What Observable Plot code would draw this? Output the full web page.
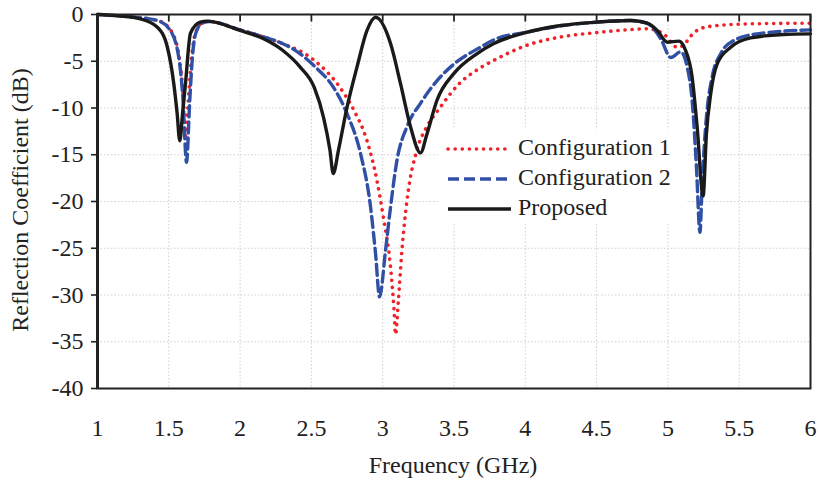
<!DOCTYPE html>
<html>
<head>
<meta charset="utf-8">
<script src="https://cdn.jsdelivr.net/npm/d3@7"></script>
<script src="https://cdn.jsdelivr.net/npm/@observablehq/plot@0.6"></script>
<style>
  html, body { margin: 0; padding: 0; background: white; }
</style>
</head>
<body>
<div id="chart"></div>
<script>
const xTicks = [1, 1.5, 2, 2.5, 3, 3.5, 4, 4.5, 5, 5.5, 6];
const yTicks = [0, -5, -10, -15, -20, -25, -30, -35, -40];
const seriesNames = ["Configuration 1", "Configuration 2", "Proposed"];

const freqConfig1 = [1.0, 1.2, 1.42, 1.51, 1.57, 1.60, 1.618, 1.64, 1.66, 1.687, 1.734, 1.78, 2.0, 2.165, 2.28, 2.52, 2.70, 2.80, 2.89, 2.96, 3.005, 3.055, 3.08, 3.09, 3.11, 3.135, 3.17, 3.24, 3.31, 3.405, 3.53, 3.685, 3.78, 4.01, 4.25, 4.48, 4.715, 4.855, 4.97, 5.065, 5.11, 5.155, 5.225, 5.345, 5.58, 6.0];
const s11Config1 = [0, -0.2, -0.64, -1.6, -4.3, -8.5, -13.0, -8.5, -4.5, -2.0, -0.9, -0.75, -1.65, -2.4, -3.0, -4.9, -7.8, -10.3, -13.5, -17.8, -21.7, -27.0, -31.7, -34.2, -30.6, -25.2, -19.9, -14.5, -12.0, -9.9, -7.5, -5.7, -4.9, -3.3, -2.4, -1.96, -1.64, -1.53, -2.07, -3.5, -3.3, -2.4, -1.53, -1.18, -1.0, -0.93];

const freqConfig2 = [1.0, 1.2, 1.42, 1.51, 1.57, 1.60, 1.624, 1.647, 1.664, 1.687, 1.734, 1.78, 2.0, 2.165, 2.28, 2.35, 2.52, 2.655, 2.75, 2.845, 2.915, 2.95, 2.978, 3.02, 3.055, 3.10, 3.17, 3.265, 3.38, 3.50, 3.685, 3.78, 4.01, 4.25, 4.50, 4.74, 4.855, 4.95, 5.02, 5.09, 5.135, 5.17, 5.20, 5.225, 5.24, 5.27, 5.31, 5.37, 5.46, 5.625, 6.0];
const s11Config2 = [0, -0.2, -0.64, -1.7, -4.6, -9.2, -15.8, -9.2, -4.9, -2.1, -0.93, -0.75, -1.65, -2.4, -3.0, -3.5, -5.5, -7.8, -10.6, -14.9, -20.6, -25.6, -30.2, -25.2, -20.6, -15.6, -12.0, -9.5, -7.1, -5.3, -3.5, -2.7, -1.9, -1.2, -0.82, -0.64, -0.95, -2.6, -4.6, -4.0, -5.6, -9.2, -16.3, -23.3, -18.1, -11.0, -6.7, -4.2, -2.8, -2.07, -1.64];

const freqProposed = [1.0, 1.15, 1.3, 1.42, 1.49, 1.535, 1.558, 1.577, 1.597, 1.617, 1.652, 1.72, 1.77, 2.0, 2.165, 2.30, 2.42, 2.52, 2.585, 2.63, 2.653, 2.69, 2.75, 2.82, 2.89, 2.95, 3.055, 3.125, 3.195, 3.265, 3.31, 3.38, 3.50, 3.66, 3.78, 4.01, 4.25, 4.50, 4.74, 4.855, 4.925, 4.995, 5.077, 5.12, 5.17, 5.205, 5.247, 5.27, 5.30, 5.345, 5.44, 5.58, 5.81, 6.0];
const s11Proposed = [0, -0.15, -0.46, -1.36, -3.5, -7.4, -10.5, -13.5, -10.5, -7.4, -2.0, -0.82, -0.71, -1.71, -2.6, -3.85, -5.6, -7.8, -11.0, -14.5, -17.0, -14.5, -9.9, -5.6, -1.7, -0.3, -3.1, -7.4, -12.0, -14.8, -12.8, -9.2, -6.3, -4.2, -3.1, -1.9, -1.18, -0.82, -0.64, -0.93, -1.7, -2.96, -2.85, -3.7, -6.7, -12.0, -19.4, -12.8, -8.5, -5.3, -3.5, -2.5, -2.14, -2.07];

const toRows = (fs, vs) => fs.map((f, i) => ({f, db: vs[i]}));
const rows1 = toRows(freqConfig1, s11Config1);
const rows2 = toRows(freqConfig2, s11Config2);
const rows3 = toRows(freqProposed, s11Proposed);

const colors = ["#ee2228", "#3050a6", "#1a1a1a"];
const dashes = ["0.1,7", "11,5", null];

const gridStyle = {stroke: "#d0d0d0", strokeOpacity: 1, strokeWidth: 1, strokeDasharray: "1.5,2"};

// tick glyph pointing down from the top axis line
const downTick = {
  draw(context) {
    context.moveTo(0, 0);
    context.lineTo(0, 7);
  }
};

const svg = Plot.plot({
  width: 818,
  height: 486,
  marginLeft: 97,
  marginRight: 8,
  marginTop: 14,
  marginBottom: 98,
  x: {domain: [1, 6]},
  y: {domain: [-40, 0]},
  style: {fontFamily: "'Liberation Serif', 'Times New Roman', serif", fontSize: "24px", color: "#222", background: "white", overflow: "visible"},
  marks: [
    Plot.gridX(xTicks, gridStyle),
    Plot.gridY(yTicks, gridStyle),
    Plot.axisY(yTicks, {tickSize: 6, tickPadding: 8, strokeWidth: 1.6, tickFormat: d => String(d), label: null}),
    Plot.axisX(xTicks, {anchor: "bottom", tickSize: 0, tickPadding: 30, tickFormat: d => String(d), label: null}),
    Plot.dot(xTicks, {x: d => d, y: () => yTicks[0], symbol: downTick, r: 3, fill: "none", stroke: "#222", strokeWidth: 1.8}),
    Plot.line(rows1, {x: "f", y: "db", stroke: colors[0], strokeWidth: 3.6, strokeDasharray: dashes[0], strokeLinecap: "round", curve: "monotone-x"}),
    Plot.line(rows2, {x: "f", y: "db", stroke: colors[1], strokeWidth: 3.4, strokeDasharray: dashes[1], curve: "monotone-x"}),
    Plot.line(rows3, {x: "f", y: "db", stroke: colors[2], strokeWidth: 3.4, curve: "monotone-x"}),
    Plot.frame({stroke: "#222", strokeWidth: 2}),
    Plot.ruleX([xTicks[0]], {stroke: "#222", strokeWidth: 3})
  ]
});

const s = d3.select(svg);
// axis titles
s.append("text")
  .attr("x", 453).attr("y", 467)
  .attr("text-anchor", "middle").attr("dominant-baseline", "middle")
  .attr("font-size", 24).attr("fill", "#222")
  .text("Frequency (GHz)");
s.append("text")
  .attr("transform", "translate(22,200) rotate(-90)")
  .attr("text-anchor", "middle").attr("dominant-baseline", "middle")
  .attr("font-size", 24).attr("fill", "#222")
  .text("Reflection Coefficient (dB)");

// legend
const lg = s.append("g");
lg.append("rect").attr("x", 438).attr("y", 130).attr("width", 248).attr("height", 94).attr("fill", "white");
seriesNames.forEach((name, i) => {
  const y = 149 + i * 30;
  const ln = lg.append("line").attr("x1", 448).attr("x2", 511).attr("y1", y).attr("y2", y)
    .attr("stroke", colors[i]).attr("stroke-width", 3.4);
  if (dashes[i]) ln.attr("stroke-dasharray", dashes[i]);
  if (i === 0) ln.attr("stroke-linecap", "round").attr("stroke-width", 3.6);
  lg.append("text").attr("x", 518).attr("y", y).attr("dominant-baseline", "middle")
    .attr("text-anchor", "start")
    .attr("font-size", 24).attr("fill", "#222").text(name);
});

document.getElementById("chart").appendChild(svg);
</script>
</body>
</html>
